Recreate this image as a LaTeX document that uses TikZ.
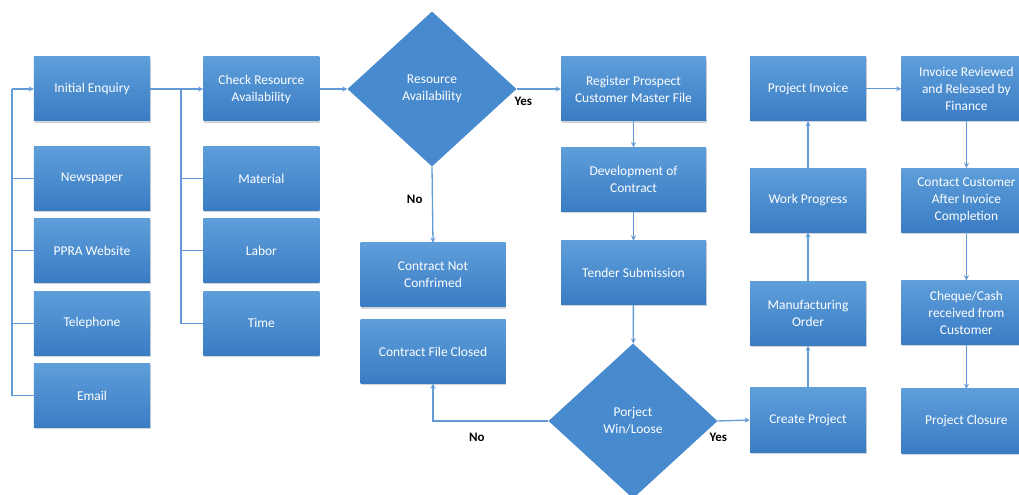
\documentclass[tikz,border=0pt]{standalone}
\usepackage{fontspec}
\setmainfont{Carlito}
\usepackage{xcolor}
\usetikzlibrary{shapes.geometric, arrows, positioning, shadows}

\definecolor{boxtop}{RGB}{94,158,218}
\definecolor{boxbot}{RGB}{58,124,196}
\definecolor{diafill}{RGB}{72,138,206}
\definecolor{linkblue}{RGB}{98,155,214}

\begin{document}
\begin{tikzpicture}[
  x=1bp, y=-1bp,
  node distance=8bp,
  every node/.style={font=\fontsize{13.5}{17}\selectfont},
  box/.style={rectangle, top color=boxtop, bottom color=boxbot, draw=none,
              text=white, minimum width=116bp, minimum height=64bp,
              align=center, inner sep=2bp,
              drop shadow={shadow xshift=0.8bp, shadow yshift=-1.6bp, opacity=0.35}},
  widebox/.style={box, minimum width=145bp},
  lastbox/.style={box, minimum width=130bp},
  decision/.style={diamond, fill=diafill, text=white, minimum width=169bp,
                   minimum height=155bp, inner sep=0pt, align=center},
  link/.style={draw=linkblue, line width=1.3bp},
  arrow/.style={link, ->, >=stealth},
  answer/.style={font=\fontsize{13}{15}\selectfont\bfseries, text=black}
]
  \useasboundingbox (0,0) rectangle (1019,495);

  % sources of the enquiry
  \node[box] (init) at (92,89) {Initial Enquiry};
  \node[box, below=25bp of init] (news) {Newspaper};
  \node[box, below=of news] (ppra) {PPRA Website};
  \node[box, below=of ppra] (phone) {Telephone};
  \node[box, below=of phone] (email) {Email};

  % resources
  \node[box, right=53bp of init] (check) {Check Resource\\Availability};
  \node[box, below=25bp of check] (material) {Material};
  \node[box, below=of material] (labor) {Labor};
  \node[box, below=of labor] (time) {Time};

  \node[decision] (resdec) at (432,89) {Resource\\Availability};
  \node[widebox] (notconf) at (433,275) {Contract Not\\Confrimed};
  \node[widebox, below=12bp of notconf] (closed) {Contract File Closed};

  % contract
  \node[widebox] (register) at (633.5,89) {Register Prospect\\Customer Master File};
  \node[widebox, below=26bp of register] (develop) {Development of\\Contract};
  \node[widebox, below=29bp of develop] (tender) {Tender Submission};
  \node[decision] (windec) at (633,421) {Porject\\Win/Loose};

  % project
  \node[box] (create) at (808,420) {Create Project};
  \node[box, above=42bp of create] (manuf) {Manufacturing\\Order};
  \node[box, above=49bp of manuf] (progress) {Work Progress};
  \node[box, above=47bp of progress] (invoice) {Project Invoice};

  % payment
  \node[lastbox, right=35bp of invoice] (review)
        {Invoice Reviewed\\and Released by\\Finance};
  \node[lastbox, below=47bp of review] (contact)
        {Contact Customer\\After Invoice\\Completion};
  \node[lastbox, below=48bp of contact] (cheque)
        {Cheque/Cash\\received from\\Customer};
  \node[lastbox, below=44bp of cheque] (closure) {Project Closure};

  \coordinate (busa) at (12,89);
  \coordinate (busb) at (181,89);

  \draw[link] (email.west) -| (busa);
  \draw[arrow] (busa) -- (init.west);
  \draw[link] (news.west) -- (news.west -| busa);
  \draw[link] (ppra.west) -- (ppra.west -| busa);
  \draw[link] (phone.west) -- (phone.west -| busa);

  \draw[arrow] (init.east) -- (check.west);
  \draw[link] (time.west) -| (busb);
  \draw[link] (material.west) -- (material.west -| busb);
  \draw[link] (labor.west) -- (labor.west -| busb);

  \draw[arrow] (check.east) -- (resdec.west);
  \draw[arrow] (resdec.east) -- (register.west)
        node[answer, pos=0.15, below=4bp] {Yes};
  \draw[arrow] (resdec.south) -- (notconf.north)
        node[answer, pos=0.43, left=6bp] {No};

  \draw[arrow] (register) -- (develop);
  \draw[arrow] (develop) -- (tender);
  \draw[arrow] (tender) -- (windec);
  \draw[arrow] (windec.west) -| (closed.south)
        node[answer, pos=0.31, below=8bp] {No};
  \draw[arrow] (windec.east) -- (create.west)
        node[answer, pos=0.02, below=8bp] {Yes};

  \draw[arrow] (create) -- (manuf);
  \draw[arrow] (manuf) -- (progress);
  \draw[arrow] (progress) -- (invoice);
  \draw[arrow] (invoice) -- (review);
  \draw[arrow] (review) -- (contact);
  \draw[arrow] (contact) -- (cheque);
  \draw[arrow] (cheque) -- (closure);
\end{tikzpicture}
\end{document}
